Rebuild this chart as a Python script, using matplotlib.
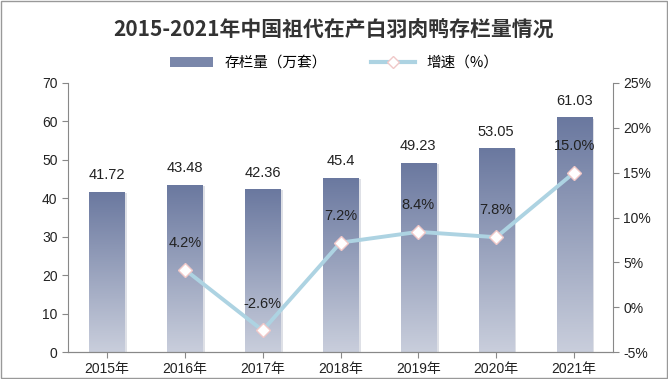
import numpy as np
import matplotlib
matplotlib.use("Agg")
import matplotlib.pyplot as plt
from matplotlib.colors import LinearSegmentedColormap
from matplotlib.lines import Line2D
from matplotlib.patches import Patch
from matplotlib.ticker import FuncFormatter

plt.rcParams['font.family'] = ['Liberation Sans', 'Noto Sans CJK SC']

years = ['2015年', '2016年', '2017年', '2018年', '2019年', '2020年', '2021年']
stock = [41.72, 43.48, 42.36, 45.4, 49.23, 53.05, 61.03]
stock_labels = ['41.72', '43.48', '42.36', '45.4', '49.23', '53.05', '61.03']
growth = [None, 4.2, -2.6, 7.2, 8.4, 7.8, 15.0]

fig = plt.figure(figsize=(6.68, 3.79), dpi=100)
ax = fig.add_axes([68 / 668, 1 - 352 / 379, (613 - 68) / 668, (352 - 83) / 379])
ax2 = ax.twinx()

x = np.arange(len(years))
width = 0.45
cmap = LinearSegmentedColormap.from_list('bar', ['#c9cedc', '#6a789f'])
grad = np.linspace(0, 1, 256).reshape(-1, 1)

bars = ax.bar(x, stock, width, color='none', zorder=2)
for b in bars:
    x0, y0 = b.get_x(), b.get_y()
    w, h = b.get_width(), b.get_height()
    # soft shadow on the right
    ax.bar(x0 + w / 2 + 0.035, h - 0.3, w, bottom=0, color='#c8ccd6', alpha=0.6, zorder=1)
    im = ax.imshow(grad, cmap=cmap, origin='lower', aspect='auto',
                   extent=[x0, x0 + w, y0, y0 + h], zorder=2, interpolation='bilinear')
    im.set_clip_path(b)

for xi, v, lab in zip(x, stock, stock_labels):
    ax.text(xi, v + 2.5, lab, ha='center', va='bottom', fontsize=10.5, color='#222222')

ax.set_xlim(-0.5, 6.5)
ax.set_ylim(0, 70)
ax.set_yticks(range(0, 71, 10))
ax.set_xticks(x)
ax.set_xticklabels(years)

gx = x[1:]
gy = growth[1:]
ax2.plot(gx, gy, color='#add3e2', lw=2.8, zorder=3)
ax2.plot(gx, gy, ls='none', marker='D', ms=7, mfc='white', mec='#f0c8c8', mew=1, zorder=4)
for xi, v in zip(gx, gy):
    ax2.text(xi, v + 2.2, f'{v:.1f}%', ha='center', va='bottom', fontsize=10.5, color='#222222')
ax2.set_ylim(-5, 25)
ax2.set_yticks(range(-5, 26, 5))
ax2.yaxis.set_major_formatter(FuncFormatter(lambda v, p: f'{v:.0f}%'))

for a in (ax, ax2):
    a.spines['top'].set_visible(False)
    a.tick_params(labelsize=10, colors='#222222', length=4, color='#888888')
    for s in a.spines.values():
        s.set_color('#888888')
ax2.spines['left'].set_visible(False)
ax.spines['right'].set_visible(False)
ax.tick_params(axis='x', length=4, direction='out')

fig.text(0.5, 1 - 30 / 379, '2015-2021年中国祖代在产白羽肉鸭存栏量情况', ha='center', va='center',
         fontsize=15, fontweight='bold', color='#333333', family=['Noto Sans CJK SC'])

handles = [Patch(facecolor='#7a87aa', edgecolor='none'),
           Line2D([0], [0], color='#add3e2', lw=3, marker='D', mfc='white', mec='#f0c8c8', ms=6)]
fig.legend(handles, ['存栏量（万套）', '增速（%）'], loc='center', bbox_to_anchor=(0.5, 1 - 63 / 379),
           ncol=2, frameon=False, fontsize=10.5, handlelength=3, columnspacing=3,
           prop={'family': ['Noto Sans CJK SC'], 'size': 10.5})

fig.patches.append(plt.Rectangle((0.002, 0.003), 0.996, 0.994, transform=fig.transFigure,
                                 fill=False, edgecolor='#999999', lw=1))

fig.savefig('out.png', dpi=100)
